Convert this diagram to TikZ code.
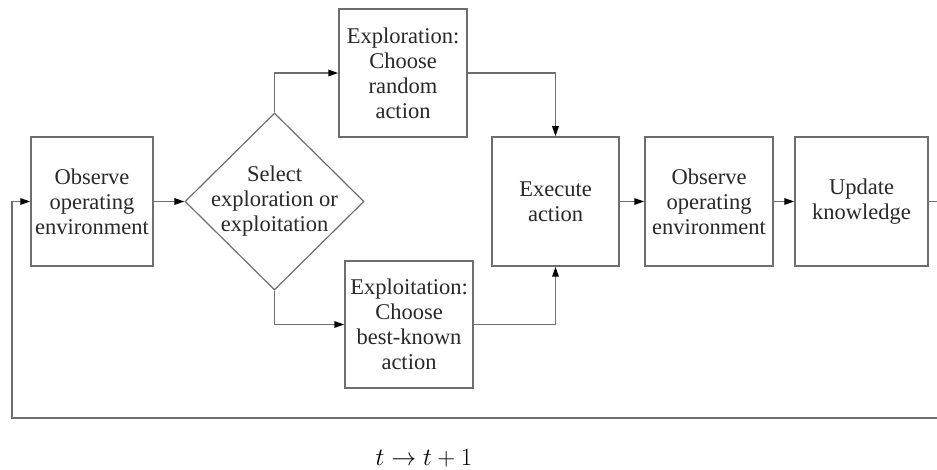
\documentclass[tikz,border=0pt]{standalone}
\usepackage{fontspec}
\setmainfont{Liberation Serif}
\usetikzlibrary{arrows.meta,shapes.geometric}
\definecolor{linegray}{RGB}{110,110,110}
\definecolor{textgray}{RGB}{40,40,40}
\begin{document}
\begin{tikzpicture}[x=1pt,y=-1pt,
  box/.style={draw=linegray,line width=1.5pt,rectangle,inner sep=0pt,
    align=center,text=textgray,font=\fontsize{22.5}{25}\selectfont},
  decision/.style={draw=linegray,line width=1.2pt,diamond,inner sep=0pt},
  label/.style={align=center,text=textgray,font=\fontsize{22.5}{25}\selectfont},
  flow/.style={draw=linegray,line width=1.5pt,
    -{Triangle[length=10pt,width=6.5pt,color=black]}},
  plain/.style={draw=linegray,line width=1.5pt}]
\useasboundingbox (0,0) rectangle (937,470);
\clip (0,0) rectangle (937,470);

% process boxes and decision
\node[box,minimum width=122pt,minimum height=129pt] (obs1) at (92,201.5)
  {Observe\\operating\\environment};
\node[decision,minimum width=179pt,minimum height=177pt] (sel) at (274.5,201.5) {};
\node[label] (seltext) at (sel.center) {Select\\exploration or\\exploitation};
\node[box,minimum width=128pt,minimum height=128pt] (explr) at (403,73)
  {Exploration:\\Choose\\random\\action};
\node[box,minimum width=128pt,minimum height=127pt] (explt) at (409,324.5)
  {Exploitation:\\Choose\\best-known\\action};
\node[box,minimum width=127pt,minimum height=129pt] (exec) at (555.5,201.5)
  {Execute\\action};
\node[box,minimum width=128pt,minimum height=129pt] (obs2) at (709,201.5)
  {Observe\\operating\\environment};
\node[box,minimum width=133pt,minimum height=129pt] (upd) at (861.5,201.5)
  {Update\\knowledge};

% loop-back corners
\coordinate (c1) at (950,201.5);
\coordinate (c2) at (950,418);
\coordinate (c3) at (12,418);
\coordinate (c4) at (12,201.5);

% connectors
\draw[flow] (obs1.east) -- (sel.west);
\draw[flow] (sel.north) |- (explr.west);
\draw[flow] (sel.south) |- (explt.west);
\draw[flow] (explr.east) -| (exec.north);
\draw[flow] (explt.east) -| (exec.south);
\draw[flow] (exec.east) -- (obs2.west);
\draw[flow] (obs2.east) -- (upd.west);
\draw[plain] (upd.east) -- (c1) -- (c2) -- (c3) -- (c4);
\draw[flow] (c4) -- (obs1.west);

% time step label
\node[text=black,font=\fontsize{25}{28}\selectfont] (step) at (424,458)
  {$t \to t + 1$};
\end{tikzpicture}
\end{document}
